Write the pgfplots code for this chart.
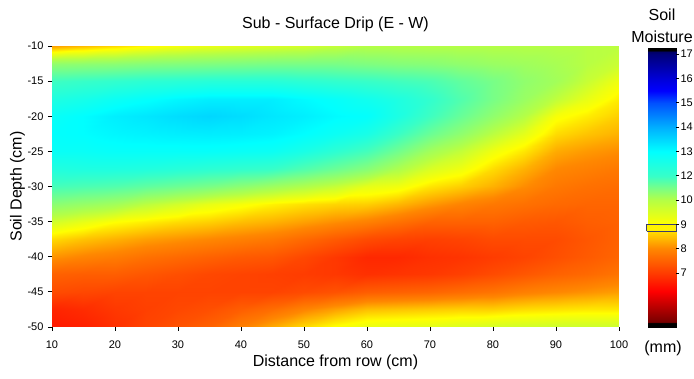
\documentclass[border=0pt]{standalone}
\usepackage{fontspec}
\setmainfont{Liberation Sans}
\usepackage{pgfplots}
\usepackage{pgfplotstable}
\pgfplotsset{compat=1.18}
\pgfplotsset{colormap={soil}{
rgb255(95pt)=(0,0,0); rgb255(99pt)=(0,0,0); rgb255(100pt)=(120,0,0);
rgb255(115pt)=(200,0,0); rgb255(125pt)=(255,0,0); rgb255(140pt)=(255,60,0);
rgb255(160pt)=(255,135,0); rgb255(180pt)=(255,255,0); rgb255(200pt)=(180,255,70);
rgb255(220pt)=(120,255,135); rgb255(240pt)=(55,255,200); rgb255(260pt)=(0,255,255);
rgb255(280pt)=(0,175,255); rgb255(300pt)=(0,80,255); rgb255(310pt)=(0,0,255);
rgb255(320pt)=(0,0,215); rgb255(340pt)=(0,0,120); rgb255(342pt)=(0,0,100);
rgb255(343pt)=(0,0,0); rgb255(345pt)=(0,0,0)}}

\pgfplotstableread{
x y v
10 -10 8.2
15 -10 8.45
20 -10 8.7
25 -10 8.95
30 -10 9.15
35 -10 9.3
40 -10 9.4
45 -10 9.5
50 -10 9.6
55 -10 9.8
60 -10 10.0
65 -10 10.0
70 -10 10.0
75 -10 10.0
80 -10 10.0
85 -10 10.0
90 -10 10.0
95 -10 9.95
100 -10 9.9
10 -12.5 10.6
15 -12.5 10.65
20 -12.5 10.7
25 -12.5 10.8
30 -12.5 10.85
35 -12.5 10.9
40 -12.5 10.95
45 -12.5 11.0
50 -12.5 11.0
55 -12.5 11.0
60 -12.5 10.9
65 -12.5 10.8
70 -12.5 10.75
75 -12.5 10.6
80 -12.5 10.45
85 -12.5 10.35
90 -12.5 10.2
95 -12.5 9.95
100 -12.5 9.7
10 -15 11.9
15 -15 12.0
20 -15 12.1
25 -15 12.2
30 -15 12.25
35 -15 12.3
40 -15 12.3
45 -15 12.3
50 -15 12.2
55 -15 12.1
60 -15 12.0
65 -15 11.85
70 -15 11.7
75 -15 11.35
80 -15 11.0
85 -15 10.6
90 -15 10.3
95 -15 9.75
100 -15 9.2
10 -17.5 12.45
15 -17.5 12.6
20 -17.5 12.8
25 -17.5 12.95
30 -17.5 13.1
35 -17.5 13.2
40 -17.5 13.2
45 -17.5 13.2
50 -17.5 13.05
55 -17.5 12.9
60 -17.5 12.7
65 -17.5 12.45
70 -17.5 12.1
75 -17.5 11.6
80 -17.5 11.0
85 -17.5 10.45
90 -17.5 9.85
95 -17.5 9.3
100 -17.5 8.85
10 -20 12.85
15 -20 13.0
20 -20 13.2
25 -20 13.3
30 -20 13.42
35 -20 13.5
40 -20 13.42
45 -20 13.3
50 -20 13.2
55 -20 13.05
60 -20 12.95
65 -20 12.5
70 -20 11.9
75 -20 11.25
80 -20 10.6
85 -20 10.0
90 -20 9.1
95 -20 8.85
100 -20 8.6
10 -22.5 12.95
15 -22.5 13.0
20 -22.5 13.1
25 -22.5 13.15
30 -22.5 13.2
35 -22.5 13.22
40 -22.5 13.2
45 -22.5 13.15
50 -22.5 13.0
55 -22.5 12.8
60 -22.5 12.55
65 -22.5 11.95
70 -22.5 11.2
75 -22.5 10.6
80 -22.5 9.9
85 -22.5 9.35
90 -22.5 8.7
95 -22.5 8.5
100 -22.5 8.35
10 -25 12.85
15 -25 12.85
20 -25 12.9
25 -25 12.9
30 -25 12.9
35 -25 12.9
40 -25 12.85
45 -25 12.8
50 -25 12.55
55 -25 12.2
60 -25 11.8
65 -25 11.1
70 -25 10.3
75 -25 9.8
80 -25 9.2
85 -25 8.8
90 -25 8.3
95 -25 8.15
100 -25 8.05
10 -27.5 12.4
15 -27.5 12.45
20 -27.5 12.45
25 -27.5 12.4
30 -27.5 12.3
35 -27.5 12.2
40 -27.5 12.1
45 -27.5 12.0
50 -27.5 11.6
55 -27.5 11.2
60 -27.5 10.75
65 -27.5 10.1
70 -27.5 9.5
75 -27.5 9.2
80 -27.5 8.7
85 -27.5 8.35
90 -27.5 8.0
95 -27.5 7.9
100 -27.5 7.8
10 -30 11.8
15 -30 11.7
20 -30 11.6
25 -30 11.4
30 -30 11.2
35 -30 11.0
40 -30 10.7
45 -30 10.4
50 -30 10.1
55 -30 9.8
60 -30 9.35
65 -30 9.2
70 -30 8.8
75 -30 8.6
80 -30 8.35
85 -30 8.05
90 -30 7.8
95 -30 7.7
100 -30 7.65
10 -32.5 10.7
15 -32.5 10.5
20 -32.5 10.3
25 -32.5 9.9
30 -32.5 9.6
35 -32.5 9.3
40 -32.5 9.1
45 -32.5 8.9
50 -32.5 8.75
55 -32.5 8.65
60 -32.5 8.6
65 -32.5 8.4
70 -32.5 8.15
75 -32.5 7.95
80 -32.5 7.8
85 -32.5 7.7
90 -32.5 7.6
95 -32.5 7.55
100 -32.5 7.55
10 -35 9.6
15 -35 9.3
20 -35 9.0
25 -35 8.85
30 -35 8.7
35 -35 8.6
40 -35 8.45
45 -35 8.35
50 -35 8.2
55 -35 8.05
60 -35 7.9
65 -35 7.7
70 -35 7.5
75 -35 7.5
80 -35 7.5
85 -35 7.4
90 -35 7.35
95 -35 7.45
100 -35 7.5
10 -37.5 8.7
15 -37.5 8.5
20 -37.5 8.35
25 -37.5 8.2
30 -37.5 8.1
35 -37.5 8.0
40 -37.5 7.9
45 -37.5 7.8
50 -37.5 7.6
55 -37.5 7.4
60 -37.5 7.2
65 -37.5 7.1
70 -37.5 7.05
75 -37.5 7.1
80 -37.5 7.2
85 -37.5 7.2
90 -37.5 7.2
95 -37.5 7.35
100 -37.5 7.5
10 -40 8.1
15 -40 7.95
20 -40 7.85
25 -40 7.7
30 -40 7.6
35 -40 7.5
40 -40 7.4
45 -40 7.35
50 -40 7.15
55 -40 6.95
60 -40 6.75
65 -40 6.75
70 -40 6.85
75 -40 6.9
80 -40 7.0
85 -40 7.1
90 -40 7.25
95 -40 7.4
100 -40 7.55
10 -42.5 7.5
15 -42.5 7.45
20 -42.5 7.45
25 -42.5 7.35
30 -42.5 7.25
35 -42.5 7.15
40 -42.5 7.1
45 -42.5 7.05
50 -42.5 7.0
55 -42.5 6.95
60 -42.5 6.85
65 -42.5 6.9
70 -42.5 6.95
75 -42.5 7.05
80 -42.5 7.2
85 -42.5 7.35
90 -42.5 7.5
95 -42.5 7.6
100 -42.5 7.75
10 -45 7.2
15 -45 7.15
20 -45 7.1
25 -45 7.1
30 -45 7.1
35 -45 7.1
40 -45 7.1
45 -45 7.1
50 -45 7.2
55 -45 7.3
60 -45 7.45
65 -45 7.5
70 -45 7.55
75 -45 7.65
80 -45 7.75
85 -45 7.9
90 -45 8.0
95 -45 8.1
100 -45 8.2
10 -47.5 6.7
15 -47.5 6.8
20 -47.5 6.95
25 -47.5 7.05
30 -47.5 7.15
35 -47.5 7.25
40 -47.5 7.45
45 -47.5 7.65
50 -47.5 7.95
55 -47.5 8.2
60 -47.5 8.45
65 -47.5 8.5
70 -47.5 8.55
75 -47.5 8.6
80 -47.5 8.6
85 -47.5 8.7
90 -47.5 8.75
95 -47.5 8.8
100 -47.5 8.8
10 -50 6.55
15 -50 6.65
20 -50 6.85
25 -50 7.1
30 -50 7.3
35 -50 7.5
40 -50 7.9
45 -50 8.3
50 -50 8.7
55 -50 9.05
60 -50 9.3
65 -50 9.35
70 -50 9.4
75 -50 9.5
80 -50 9.6
85 -50 9.65
90 -50 9.7
95 -50 9.7
100 -50 9.7
}\moisture

\pgfplotstableread{
x u v
0 0 4.75
1 0 4.75
0 2.25 7
1 2.25 7
0 5.25 10
1 5.25 10
0 6.25 12
1 6.25 12
0 11.5 17.25
1 11.5 17.25
}\colorscale

\begin{document}
\begin{tikzpicture}
\useasboundingbox (0pt,0pt) rectangle (694pt,379pt);
\begin{axis}[
  at={(52pt,52pt)}, anchor=south west,
  scale only axis, width=567pt, height=281pt,
  xmin=10, xmax=100, ymin=-50, ymax=-10,
  xtick={10,20,...,100}, ytick={-50,-45,...,-10},
  axis x line*=bottom, axis y line*=left,
  axis line style={draw=none},
  tick align=outside, major tick length=4pt,
  tick style={black, line width=0.8pt},
  tick label style={font=\fontsize{11}{13}\selectfont, text=black},
  /pgf/number format/assume math mode=true,
  xticklabel style={yshift=-6pt},
  yticklabel style={xshift=-1pt},
  colormap name=soil, point meta min=4.75, point meta max=17.25,
  axis on top,
]
\addplot[surf, shader=interp, mesh/cols=19, point meta=explicit] table[x=x, y=y, meta=v] {\moisture};
\end{axis}
\begin{axis}[
  at={(648pt,51pt)}, anchor=south west,
  scale only axis, width=28pt, height=280pt,
  xmin=0, xmax=1, ymin=0, ymax=11.5,
  xtick=\empty,
  ytick={2.25,3.25,4.25,5.25,6.25,7.25,8.25,9.25,10.25,11.25},
  yticklabels={7,8,9,10,12,13,14,15,16,17},
  axis x line=none, axis y line*=right,
  axis line style={draw=none},
  tick align=outside, major tick length=3pt,
  tick style={black, line width=0.8pt},
  tick label style={font=\fontsize{11}{13}\selectfont, text=black},
  yticklabel style={xshift=-2pt},
  colormap name=soil, point meta min=4.75, point meta max=17.25,
  clip=false, axis on top,
]
\addplot[surf, shader=interp, mesh/cols=2, point meta=explicit] table[x=x, y=u, meta=v] {\colorscale};
\addplot[draw={rgb,255:red,60;green,60;blue,110}, fill=yellow, line width=1pt] coordinates {(-0.05,3.97) (1.02,3.97) (1.02,4.27) (-0.05,4.27) (-0.05,3.97)};
\end{axis}
\node[font=\fontsize{16}{18}\selectfont] at (335.5pt,355pt) {Sub - Surface Drip (E - W)};
\node[font=\fontsize{16}{18}\selectfont] at (335.5pt,17pt) {Distance from row (cm)};
\node[font=\fontsize{16}{18}\selectfont, rotate=90] at (17.5pt,192.5pt) {Soil Depth (cm)};
\node[font=\fontsize{16}{18}\selectfont] at (662pt,364pt) {Soil};
\node[font=\fontsize{16}{18}\selectfont] at (662pt,342pt) {Moisture};
\node[font=\fontsize{16}{18}\selectfont] at (663pt,31pt) {(mm)};
\end{tikzpicture}
\end{document}
